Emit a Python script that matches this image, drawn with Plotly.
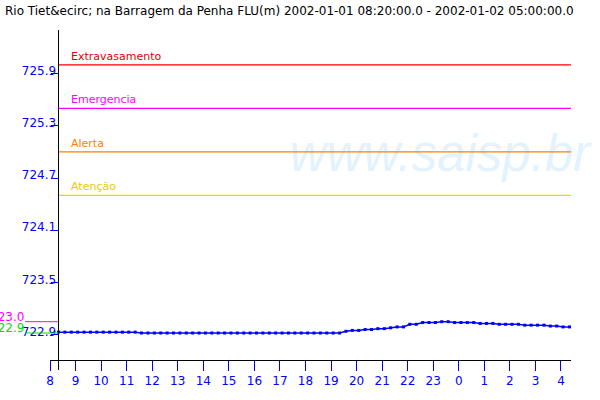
import pandas as pd
import plotly.graph_objects as go

# ---- data ----
start_time = "2002-01-01 08:20"
n_points = 81
times = pd.date_range(start_time, periods=n_points, freq="15min")
levels = (
    [722.93] * 13
    + [722.92] * 32
    + [722.94, 722.95, 722.95, 722.96, 722.96, 722.97, 722.97, 722.98,
       722.99, 722.99, 723.02, 723.02, 723.04, 723.04, 723.04, 723.05, 723.05]
    + [723.04] * 4
    + [723.03] * 3
    + [723.02] * 4
    + [723.01] * 4
    + [723.00] * 2
    + [722.99] * 2
)

threshold_names = ["Extravasamento", "Emergencia", "Alerta", "Atenção"]
threshold_values = [726.0, 725.5, 725.0, 724.5]
threshold_colors = ["#FF0000", "#FF00FF", "#FF8000", "#FFD200"]
threshold_text_colors = ["#E00000", "#FF00FF", "#FF8000", "#E8CC00"]

y_tickvals = [722.9, 723.5, 724.1, 724.7, 725.3, 725.9]
y_ticktext = ["722.9", "723.5", "724.1", "724.7", "725.3", "725.9"]

x_tickvals = pd.date_range("2002-01-01 08:00", "2002-01-02 04:00", freq="1h")
x_ticktext = [str(t.hour) for t in x_tickvals]

title_text = ("Rio Tiet&ecirc; na Barragem da Penha FLU(m) "
              "2002-01-01 08:20:00.0 - 2002-01-02 05:00:00.0")

# ---- figure ----
W, H = 600, 400
ml, mr, mt, mb = 50, 29, 30, 40
pw = W - ml - mr
ph = H - mt - mb

x_range = [pd.Timestamp("2002-01-01 08:00"), pd.Timestamp("2002-01-02 04:23:30")]
y_range = [722.61, 726.40]
span_ms = (x_range[1] - x_range[0]).total_seconds()
yaxis_pos = (times[0] - x_range[0]).total_seconds() / span_ms

fig = go.Figure()

# watermark (behind data)
fig.add_trace(go.Scatter(
    x=[pd.Timestamp("2002-01-01 23:16")], y=[724.93],
    mode="text", text=["www.saisp.br"],
    textfont=dict(family="Liberation Sans", size=51, color="#E2F3FF", style="italic"),
    hoverinfo="skip", showlegend=False, cliponaxis=False,
))

fig.add_trace(go.Scatter(
    x=times, y=levels, mode="lines+markers",
    line=dict(color="#0000FF", width=1.5),
    marker=dict(symbol="square", size=3, color="#0000FF"),
    showlegend=False,
))

shapes = []
annotations = []
for name, val, col, tcol in zip(threshold_names, threshold_values,
                                threshold_colors, threshold_text_colors):
    shapes.append(dict(type="line", xref="paper", yref="y",
                       x0=yaxis_pos, x1=1, y0=val, y1=val,
                       line=dict(color=col, width=1.2)))
    annotations.append(dict(xref="paper", yref="y", x=yaxis_pos + 10 / pw, y=val,
                            xanchor="left", yanchor="bottom", yshift=0,
                            text=name, showarrow=False,
                            font=dict(family="DejaVu Sans", size=11, color=tcol)))

# y axis line (extends slightly below the x axis)
shapes.append(dict(type="line", xref="paper", yref="paper",
                   x0=yaxis_pos, x1=yaxis_pos, y0=-10 / ph, y1=1,
                   line=dict(color="black", width=1)))

# max / min markers at the left margin
vmax, vmin = max(levels), min(levels)
for v, col in [(vmax, "#FF00FF"), (vmin, "#00E000")]:
    shapes.append(dict(type="line", xref="paper", yref="y",
                       x0=-25 / pw, x1=yaxis_pos, y0=v, y1=v,
                       line=dict(color=col, width=1)))
    annotations.append(dict(xref="paper", yref="y", x=-24 / pw, y=v,
                            xanchor="right", yanchor="middle", yshift=5,
                            text=f"{v:.1f}", showarrow=False,
                            font=dict(family="DejaVu Sans", size=12, color=col)))

fig.update_layout(
    width=W, height=H,
    margin=dict(l=ml, r=mr, t=mt, b=mb, pad=0),
    paper_bgcolor="white", plot_bgcolor="white",
    title=dict(text=title_text, x=5 / W, xref="container", xanchor="left",
               y=1 - 11 / H, yref="container", yanchor="middle",
               font=dict(family="DejaVu Sans", size=12, color="black")),
    shapes=shapes, annotations=annotations,
    xaxis=dict(range=x_range, tickvals=x_tickvals, ticktext=x_ticktext,
               showgrid=False, zeroline=False, showline=True, linecolor="black",
               linewidth=1, ticks="outside", ticklen=10, tickcolor="#0000FF",
               tickwidth=1,
               tickfont=dict(family="DejaVu Sans", size=12, color="#0000FF")),
    yaxis=dict(range=y_range, tickvals=y_tickvals, ticktext=y_ticktext,
               anchor="free", position=yaxis_pos,
               showgrid=False, zeroline=False, showline=False,
               ticks="outside", ticklen=8, tickcolor="#0000FF", tickwidth=1,
               ticklabelstandoff=-8, ticklabelshift=-3,
               tickfont=dict(family="DejaVu Sans", size=12, color="#0000FF")),
    hovermode=False,
)

fig.write_html("out.html", config={"displayModeBar": False},
               post_script="document.body.style.margin='0';document.body.style.padding='0';")
